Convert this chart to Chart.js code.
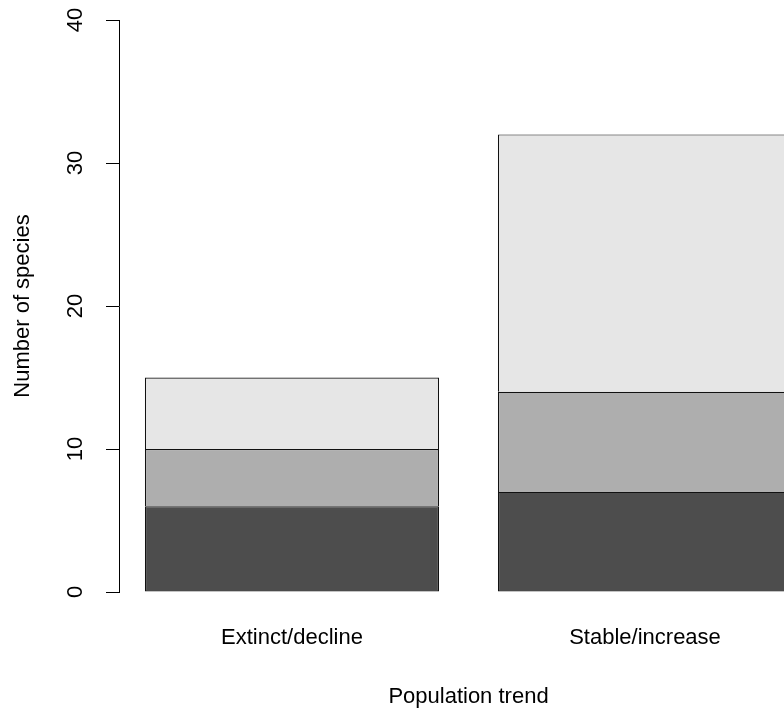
<!DOCTYPE html>
<html>
<head>
<meta charset="utf-8">
<script src="https://cdn.jsdelivr.net/npm/chart.js@4/dist/chart.umd.min.js"></script>
<style>
  html, body { margin: 0; padding: 0; background: #fff; overflow: hidden; }
  #wrap { width: 784px; height: 717px; overflow: hidden; }
</style>
</head>
<body>
<div id="wrap"><canvas id="myChart" width="900" height="717"></canvas></div>
<script>
const categories = ["Extinct/decline", "Stable/increase"];
const seriesDark = [6, 7];
const seriesMid = [4, 7];
const seriesLight = [5, 18];
const yTicks = [0, 10, 20, 30, 40];

// R barplot geometry: width 1, space 0.2
const barSpace = 0.2;
const barCenters = categories.map((c, i) => barSpace + i * (1 + barSpace) + 0.5);

function toPoints(values) {
  return values.map((v, i) => ({ x: barCenters[i], y: v }));
}

function makeDataset(label, values, color, skip) {
  return {
    label: label,
    data: toPoints(values),
    backgroundColor: color,
    borderColor: "#111",
    borderWidth: 1.2,
    // upper segments skip their bottom edge so the shared line stays thin
    borderSkipped: skip,
    categoryPercentage: 1,
    barPercentage: 1 / (1 + barSpace),
  };
}

const font = { family: "'Liberation Sans', Arial, sans-serif", size: 22 };

const ctx = document.getElementById("myChart").getContext("2d");
new Chart(ctx, {
  type: "bar",
  data: {
    datasets: [
      makeDataset("a", seriesDark, "#4D4D4D", false),
      makeDataset("b", seriesMid, "#AEAEAE", "start"),
      makeDataset("c", seriesLight, "#E6E6E6", "start"),
    ],
  },
  options: {
    responsive: false,
    animation: false,
    layout: { padding: { left: 0, top: 20, right: 82, bottom: 0 } },
    plugins: { legend: { display: false }, tooltip: { enabled: false } },
    scales: {
      x: {
        type: "linear",
        stacked: true,
        offset: false,
        min: 0.112,
        max: 2.488,
        afterBuildTicks: (scale) => {
          scale.ticks = barCenters.map((v) => ({ value: v }));
        },
        afterFit: (scale) => {
          scale.height = 125;
          scale.paddingLeft = 0;
          scale.paddingRight = 0;
        },
        grid: { display: false, drawTicks: false, offset: false },
        border: { display: false },
        ticks: {
          color: "#000",
          font: font,
          padding: 33,
          maxRotation: 0,
          autoSkip: false,
          callback: (value, index) => categories[index],
        },
        title: {
          display: true,
          text: "Population trend",
          color: "#000",
          font: font,
          padding: { top: 0, bottom: 7 },
        },
      },
      y: {
        stacked: true,
        min: 0,
        max: 40,
        afterBuildTicks: (scale) => {
          scale.ticks = yTicks.map((v) => ({ value: v }));
        },
        afterFit: (scale) => {
          scale.width = 119;
          scale.paddingTop = 0;
          scale.paddingBottom = 0;
        },
        grid: {
          drawOnChartArea: false,
          drawTicks: true,
          tickLength: 13,
          color: "#000",
        },
        border: { display: true, color: "#000", width: 1 },
        ticks: {
          color: "#000",
          font: font,
          minRotation: 90,
          maxRotation: 90,
          crossAlign: "center",
          padding: 18,
        },
        title: {
          display: true,
          text: "Number of species",
          color: "#000",
          font: font,
          padding: { top: 10, bottom: 0 },
        },
      },
    },
  },
});
</script>
</body>
</html>
